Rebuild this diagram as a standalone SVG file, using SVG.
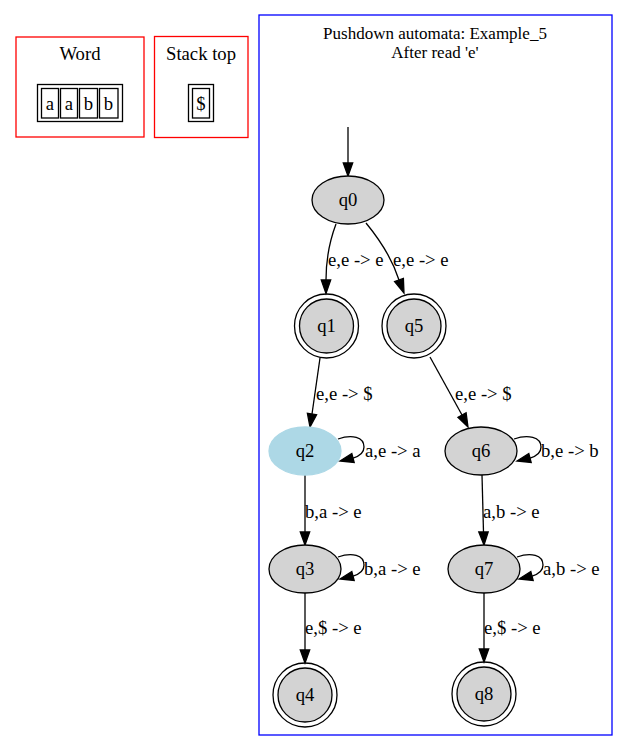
<svg xmlns="http://www.w3.org/2000/svg" width="629" height="752" viewBox="0 0 629 752">
<style>
text{font-family:"Liberation Serif","Times New Roman",serif;font-size:18.67px;fill:#000;text-anchor:middle}
.lbl{text-anchor:start}
.ttl{font-size:17px}
.cr{fill:none;stroke:#ff0000;stroke-width:1.3}
.cb{fill:none;stroke:#0000ff;stroke-width:1.3}
.st{fill:#d3d3d3;stroke:#000;stroke-width:1.3}
.ring{fill:none;stroke:#000;stroke-width:1.3}
.cur{fill:#add8e6;stroke:#add8e6;stroke-width:1.3}
.rec{fill:none;stroke:#000;stroke-width:1.3}
.e{fill:none;stroke:#000;stroke-width:1.3}
.ah{fill:#000;stroke:#000;stroke-width:1.3}
</style>
<rect width="629" height="752" fill="#fff"/>
<g id="cluster_word">
<rect class="cr" x="16" y="37" width="128" height="100"/>
<text x="80" y="60">Word</text>
<rect class="rec" x="37.5" y="84.5" width="85" height="37"/>
<rect class="rec" x="41.5" y="88.5" width="17" height="29.5"/>
<rect class="rec" x="60.5" y="88.5" width="17" height="29.5"/>
<rect class="rec" x="79.5" y="88.5" width="18" height="29.5"/>
<rect class="rec" x="99.5" y="88.5" width="18.5" height="29.5"/>
<text x="50" y="110">a</text>
<text x="69" y="110">a</text>
<text x="88.5" y="110">b</text>
<text x="108.5" y="110">b</text>
</g>
<g id="cluster_stack">
<rect class="cr" x="154.5" y="36.5" width="93.5" height="101"/>
<text x="201" y="60">Stack top</text>
<rect class="rec" x="188.5" y="84.5" width="25" height="37"/>
<rect class="rec" x="192.5" y="88.5" width="17" height="29.5"/>
<text x="201" y="110">$</text>
</g>
<g id="cluster_pda">
<rect class="cb" x="259" y="15" width="353" height="720"/>
<text class="ttl" x="435" y="39">Pushdown automata: Example_5</text>
<text class="ttl" x="435" y="58">After read 'e'</text>
</g>
<g id="connectors">
<path class="e" d="M348,127 L348,163"/>
<polygon class="ah" points="343.3,163 348,176 352.7,163"/>
<path class="e" d="M336,224 C330,240 326,258 326,280"/>
<polygon class="ah" points="321.3,280 326,293.5 330.7,280"/>
<path class="e" d="M366,223 C380,240 392,258 399,280"/>
<polygon class="ah" points="394.6,281.5 404,293 403.4,278.5"/>
<path class="e" d="M320,358 L312,414"/>
<polygon class="ah" points="307.4,413.3 310,427 316.6,414.7"/>
<path class="e" d="M430,357 L462,415"/>
<polygon class="ah" points="457.9,417.3 468,427 466.1,412.7"/>
<path class="e" d="M338,439 C352,434 364,437 364,447 C364,453 360,456 353,458"/>
<polygon class="ah" points="351.8,453.5 340,461 354.2,462.5"/>
<path class="e" d="M514,439 C528,434 541,437 541,447 C541,453 537,456 530,458"/>
<polygon class="ah" points="528.8,453.5 517,461 531.2,462.5"/>
<path class="e" d="M305,475 L305,532"/>
<polygon class="ah" points="300.3,532 305,545 309.7,532"/>
<path class="e" d="M482,475 L483.5,532"/>
<polygon class="ah" points="478.8,532 484,545 488.2,532"/>
<path class="e" d="M338,557 C352,552 364,555 364,565 C364,571 360,574 353,576"/>
<polygon class="ah" points="351.8,571.5 340,579 354.2,580.5"/>
<path class="e" d="M517,557 C531,552 543,555 543,565 C543,571 539,574 532,576"/>
<polygon class="ah" points="530.8,571.5 519,579 533.2,580.5"/>
<path class="e" d="M305,593 L305,650"/>
<polygon class="ah" points="300.3,650 305,663 309.7,650"/>
<path class="e" d="M484,593 L484,649"/>
<polygon class="ah" points="479.3,649 484,662 488.7,649"/>
<text class="lbl" x="328" y="266">e,e -&gt; e</text>
<text class="lbl" x="393" y="266">e,e -&gt; e</text>
<text class="lbl" x="316" y="400">e,e -&gt; $</text>
<text class="lbl" x="455" y="400">e,e -&gt; $</text>
<text class="lbl" x="365" y="457">a,e -&gt; a</text>
<text class="lbl" x="541" y="457">b,e -&gt; b</text>
<text class="lbl" x="305" y="518">b,a -&gt; e</text>
<text class="lbl" x="483" y="518">a,b -&gt; e</text>
<text class="lbl" x="364" y="575">b,a -&gt; e</text>
<text class="lbl" x="543" y="575">a,b -&gt; e</text>
<text class="lbl" x="305" y="634">e,$ -&gt; e</text>
<text class="lbl" x="484" y="634">e,$ -&gt; e</text>
</g>
<g id="q0"><ellipse class="st" cx="348" cy="200" rx="36" ry="24"/><text x="348" y="206">q0</text></g>
<g id="q1"><circle class="ring" cx="326.5" cy="326" r="32"/><circle class="st" cx="326.5" cy="326" r="27"/><text x="326.5" y="332">q1</text></g>
<g id="q5"><circle class="ring" cx="414" cy="326" r="32"/><circle class="st" cx="414" cy="326" r="27"/><text x="414" y="332">q5</text></g>
<g id="q2"><ellipse class="cur" cx="305" cy="451" rx="36" ry="24"/><text x="305" y="457">q2</text></g>
<g id="q6"><ellipse class="st" cx="481" cy="451" rx="36" ry="24"/><text x="481" y="457">q6</text></g>
<g id="q3"><ellipse class="st" cx="305" cy="569" rx="36" ry="24"/><text x="305" y="575">q3</text></g>
<g id="q7"><ellipse class="st" cx="484" cy="569" rx="36" ry="24"/><text x="484" y="575">q7</text></g>
<g id="q4"><circle class="ring" cx="305" cy="695" r="32"/><circle class="st" cx="305" cy="695" r="27"/><text x="305" y="701">q4</text></g>
<g id="q8"><circle class="ring" cx="484" cy="694" r="32"/><circle class="st" cx="484" cy="694" r="27"/><text x="484" y="700">q8</text></g>
</svg>
